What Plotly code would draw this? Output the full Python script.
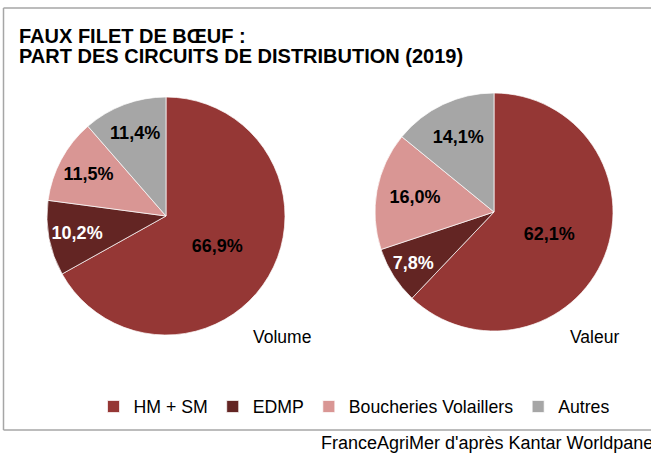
import plotly.graph_objects as go

W, H = 651, 456

categories = ["HM + SM", "EDMP", "Boucheries Volaillers", "Autres"]
volume_values = [66.9, 10.2, 11.5, 11.4]
valeur_values = [62.1, 7.8, 16.0, 14.1]
pie_titles = ["Volume", "Valeur"]
colors = ["#953735", "#632523", "#D99694", "#A6A6A6"]
text_colors = ["black", "white", "black", "black"]

FONT = "Liberation Sans, Arial, Helvetica, sans-serif"


def px(x):
    return x / W


def py(y):
    return 1 - y / H


fig = go.Figure()

common = dict(
    labels=categories,
    sort=False,
    direction="clockwise",
    rotation=0,
    marker=dict(colors=colors, line=dict(color="white", width=0.7)),
    texttemplate="%{value:.1f}%",
    textposition="inside",
    insidetextorientation="horizontal",
    insidetextfont=dict(family=FONT, size=18, color=text_colors, weight="bold"),
    hoverinfo="label+value",
)

fig.add_trace(go.Pie(
    values=volume_values,
    name=pie_titles[0],
    domain=dict(x=[px(47), px(285)], y=[py(335), py(97)]),
    showlegend=True,
    **common,
))
fig.add_trace(go.Pie(
    values=valeur_values,
    name=pie_titles[1],
    domain=dict(x=[px(375), px(613)], y=[py(331), py(93)]),
    showlegend=False,
    **common,
))

annotations = [
    dict(text="<b>FAUX FILET DE BŒUF :</b>", x=px(17), y=py(35.5), xanchor="left", yanchor="middle",
         font=dict(family=FONT, size=20, color="black")),
    dict(text="<b>PART DES CIRCUITS DE DISTRIBUTION (2019)</b>", x=px(17), y=py(56.5), xanchor="left",
         yanchor="middle", font=dict(family=FONT, size=20, color="black")),
    dict(text=pie_titles[0], x=px(282), y=py(337), xanchor="center", yanchor="middle",
         font=dict(family=FONT, size=17.5, color="black")),
    dict(text=pie_titles[1], x=px(594), y=py(337), xanchor="center", yanchor="middle",
         font=dict(family=FONT, size=17.5, color="black")),
    dict(text="FranceAgriMer d'après Kantar Worldpanel", x=px(319), y=py(443), xanchor="left",
         yanchor="middle", font=dict(family=FONT, size=18, color="black")),
]
for a in annotations:
    a.update(xref="paper", yref="paper", showarrow=False)

frame_color = "#A6A6A6"
shapes = [
    dict(type="line", x0=px(3.5), x1=px(660), y0=py(8), y1=py(8)),
    dict(type="line", x0=px(3.5), x1=px(3.5), y0=py(8), y1=py(430)),
    dict(type="line", x0=px(3.5), x1=px(660), y0=py(430), y1=py(430)),
]
for s in shapes:
    s.update(xref="paper", yref="paper", line=dict(color=frame_color, width=1.5))

fig.update_layout(
    width=W,
    height=H,
    margin=dict(l=0, r=0, t=0, b=0),
    paper_bgcolor="white",
    plot_bgcolor="white",
    separators=", ",
    font=dict(family=FONT, size=17, color="black"),
    legend=dict(
        orientation="h",
        x=px(354),
        xanchor="center",
        y=py(407),
        yanchor="middle",
        font=dict(family=FONT, size=17.7, color="black"),
        itemwidth=30,
        traceorder="normal",
    ),
    annotations=annotations,
    shapes=shapes,
)

fig.write_html(
    "out.html",
    config={"displayModeBar": False},
    post_script="document.body.style.margin='0';document.body.style.overflow='hidden';",
)
